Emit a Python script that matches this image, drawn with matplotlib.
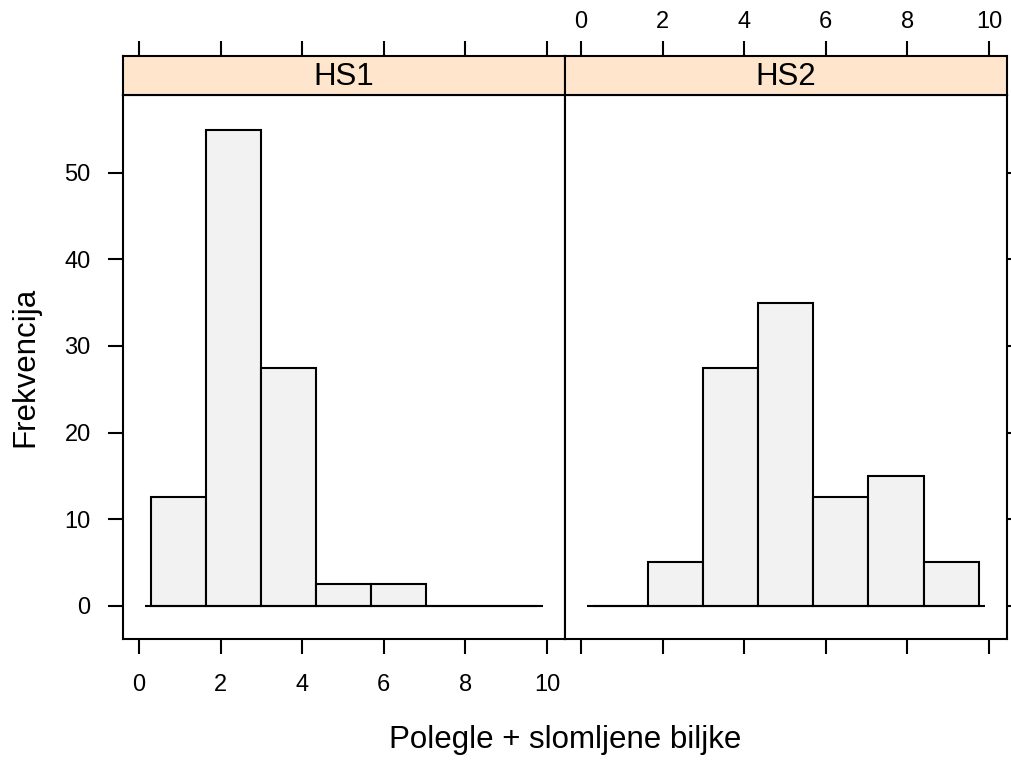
import matplotlib.pyplot as plt
import numpy as np

plt.rcParams['font.family'] = ['Liberation Sans', 'DejaVu Sans']

# histogram bins (common to both panels) and percentages per group
bin_start = 0.29
bin_width = 1.351
n_bins = 7
groups = ['HS1', 'HS2']
hs1 = [12.5, 55, 27.5, 2.5, 2.5, 0, 0]
hs2 = [0, 5, 27.5, 35, 12.5, 15, 5]
values = [hs1, hs2]

x_ticks = [0, 2, 4, 6, 8, 10]
y_ticks = [0, 10, 20, 30, 40, 50]
xlim = (-0.39, 10.44)
ylim = (-3.86, 59.0)

lw = 1.5
strip_col = '#ffe5cc'
bar_col = '#f2f2f2'
tick_fs = 17
lab_fs = 22.5

fig = plt.figure(figsize=(10.11, 7.60), dpi=100)

W, H = 1011, 760
lefts = [123, 565]
rights = [565, 1007]
top_px, bottom_px, strip_top = 95, 639, 56

edges = bin_start + bin_width * np.arange(n_bins)

for i, (g, vals) in enumerate(zip(groups, values)):
    l = lefts[i] / W
    w = (rights[i] - lefts[i]) / W
    b = (H - bottom_px) / H
    h = (bottom_px - top_px) / H
    ax = fig.add_axes([l, b, w, h])
    sax = fig.add_axes([l, (H - top_px) / H, w, (top_px - strip_top) / H])

    ax.bar(edges, vals, width=bin_width, align='edge', color=bar_col,
           edgecolor='black', linewidth=lw, zorder=2)
    ax.hlines(0, 0.15, 9.9, color='black', linewidth=lw, zorder=3)
    ax.set_xlim(*xlim)
    ax.set_ylim(*ylim)

    for sp in ax.spines.values():
        sp.set_linewidth(lw)

    # bottom ticks: labels only on the first panel
    ax.set_xticks(x_ticks)
    ax.tick_params(axis='x', direction='out', length=10.8, width=lw,
                   labelsize=tick_fs, pad=14.5, top=False,
                   labelbottom=(i == 0))
    ax.set_yticks(y_ticks)
    if i == 0:
        ax.tick_params(axis='y', direction='out', length=10.8, width=lw,
                       labelsize=tick_fs, pad=12.5, left=True, right=False)
    else:
        ax.tick_params(axis='y', direction='out', length=10.8, width=lw,
                       left=False, right=True, labelleft=False)

    # strip with group name; top ticks drawn above it
    sax.set_facecolor(strip_col)
    sax.set_xlim(*xlim)
    sax.set_yticks([])
    sax.set_xticks(x_ticks)
    sax.xaxis.set_ticks_position('top')
    sax.tick_params(axis='x', direction='out', length=10.8, width=lw,
                    labelsize=tick_fs, pad=6, bottom=False,
                    labeltop=(i == 1), labelbottom=False)
    for sp in sax.spines.values():
        sp.set_linewidth(lw)
    sax.text(0.5, 0.45, g, transform=sax.transAxes, ha='center',
             va='center', fontsize=lab_fs)

fig.text(565 / W, 1 - 740 / H, 'Polegle + slomljene biljke', ha='center',
         va='center', fontsize=lab_fs)
fig.text(25 / W, 1 - 367 / H, 'Frekvencija', ha='center', va='center',
         rotation=90, fontsize=lab_fs)

fig.savefig('out.png', dpi=100)
